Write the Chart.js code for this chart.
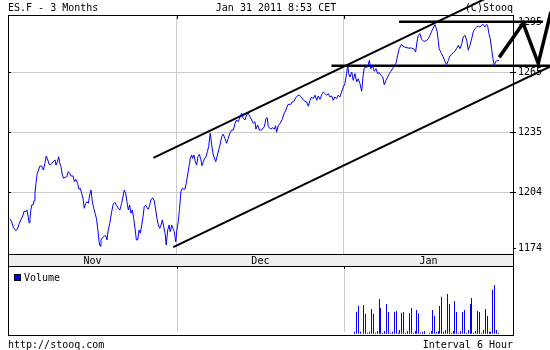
<!DOCTYPE html>
<html lang="en">
<head>
<meta charset="UTF-8">
<title>ES.F - 3 Months</title>
<script src="https://cdn.jsdelivr.net/npm/chart.js"></script>
<style>
  body { margin: 0; background: #fff; }
  #wrap { position: relative; width: 550px; height: 350px; }
  canvas { position: absolute; left: 0; }
  #priceChart { top: 0; }
  #volumeChart { top: 266px; }
</style>
</head>
<body>
<div id="wrap">
<canvas id="priceChart" width="550" height="266"></canvas>
<canvas id="volumeChart" width="550" height="84"></canvas>
</div>
<script>
// x unit = one 6-hour bar
const barCount = 264;
const monthLabels = ['Nov', 'Dec', 'Jan'];
const monthStarts = [0, 88.3, 175.6];

const yTickValues = [1176.3, 1204.6, 1234.9, 1265.2, 1290.1];
const yTickLabels = ['1174', '1204', '1235', '1265', '1295'];

const priceBars = [
  1.0,1.9,2.8,4.0,4.9,5.9,6.8,7.7,8.5,9.4,9.9,10.6,11.0,11.5,11.9,12.4,13.1,13.6,14.1,14.6,
  15.3,15.8,16.6,17.6,18.5,19.3,20.0,20.8,21.4,22.1,22.8,23.7,24.6,25.1,25.8,26.5,27.0,27.7,28.4,29.1,
  29.8,30.7,31.5,32.3,32.9,34.0,34.7,35.5,36.4,37.1,37.8,38.5,39.2,39.9,40.6,41.3,42.0,42.7,43.4,44.1,
  44.8,45.5,46.2,46.9,47.6,48.1,48.6,49.5,50.3,51.2,51.7,52.4,53.2,
  54.2,55.0,55.9,56.8,57.7,58.5,59.4,60.3,60.8,61.5,62.2,62.9,63.6,64.3,65.0,65.7,66.4,67.1,67.8,68.5,
  69.2,69.9,70.6,71.2,72.0,72.7,73.3,74.1,74.7,75.6,76.5,77.2,77.9,78.6,79.3,80.0,80.7,81.4,82.1,82.7,
  83.5,84.2,84.8,85.6,86.2,86.9,87.7,88.3,89.0,89.7,90.4,91.1,91.8,92.5,93.2,93.9,94.6,95.3,96.0,96.5,
  97.2,97.9,98.6,99.3,100.0,100.7,101.4,102.1,102.8,103.5,104.2,104.9,105.4,
  105.7,106.5,107.3,108.6,109.5,110.8,111.7,112.5,113.4,114.3,115.1,116.0,116.9,117.8,118.7,119.5,120.4,121.3,122.2,123.0,
  123.9,124.8,125.6,126.5,127.4,128.2,129.1,129.6,130.5,131.4,132.6,134.0,134.9,135.5,136.1,137.3,138.4,139.2,139.9,140.4,
  141.3,142.2,143.4,144.4,145.3,146.2,146.9,147.9,148.6,149.3,150.4,151.4,152.3,153.1,154.0,154.9,
  156.1,157.0,157.9,158.7,159.6,160.5,161.4,162.2,163.1,164.0,164.8,165.7,166.6,167.4,168.3,169.2,170.0,170.9,171.8,172.6,
  173.5,174.4,175.3,176.1,177.0,177.6,178.1,178.8,179.7,180.5,181.4,182.3,183.1,184.0,184.9,185.6,186.2,187.1,188.0,188.9,
  189.7,190.6,191.5,192.4,193.2,194.1,195.0,195.9,196.7,197.6,198.5,199.3,200.2,201.1,201.9,202.8,203.7,204.5,205.8,206.6,
  207.5,209.2,211.0,212.4,213.1,213.8,214.5,215.4,216.2,217.1,218.0,218.9,219.7,220.6,221.5,222.3,223.2,223.7,224.4,224.9,
  225.4,226.2,226.7,227.5,228.4,229.3,230.2,231.0,231.9,232.8,233.7,234.5,235.4,236.3,237.2,238.0,238.9,239.8,240.6,241.5,
  242.4,243.2,244.1,245.0,245.8,246.7,247.6,248.4,249.3,250.2,250.7,251.4,252.1,252.8,253.5,254.2,254.9,255.6,256.6
];
const priceValues = [
  1191.0,1189.6,1186.8,1185.1,1185.8,1188.8,1190.8,1192.5,1195.0,1194.7,1195.5,1191.8,1189.1,1191.3,1195.2,1198.0,1198.0,1200.2,1204.0,1209.0,
  1214.1,1215.2,1217.7,1217.7,1215.7,1219.1,1222.8,1220.8,1218.8,1218.2,1219.1,1219.9,1220.8,1218.2,1219.9,1222.4,1219.4,1217.4,1213.2,1211.5,
  1212.0,1212.3,1214.9,1214.1,1212.7,1212.7,1209.8,1211.0,1209.0,1206.0,1206.5,1204.0,1201.4,1196.4,1198.9,1199.7,1198.9,1203.1,1205.6,1199.7,
  1196.4,1193.9,1191.3,1186.3,1179.5,1177.3,1180.4,1181.7,1182.4,1182.4,1180.4,1185.4,1188.8,
  1194.7,1198.4,1199.4,1197.7,1196.4,1195.5,1198.9,1203.1,1205.6,1204.0,1199.7,1195.5,1198.0,1193.9,1195.5,1191.3,1186.3,1180.4,1180.4,1185.4,
  1183.8,1187.9,1192.1,1197.2,1198.0,1196.7,1195.9,1198.0,1200.6,1201.7,1200.1,1195.5,1191.3,1187.9,1186.3,1187.9,1190.5,1187.1,1183.8,1177.8,
  1185.4,1187.9,1184.6,1187.9,1186.3,1184.6,1179.5,1185.4,1189.6,1196.4,1204.8,1206.5,1206.1,1206.1,1209.0,1213.2,1217.4,1221.6,1223.3,1221.6,
  1223.3,1219.9,1218.2,1222.4,1223.6,1221.6,1217.9,1219.9,1221.6,1222.4,1225.0,1227.5,1231.7,
  1234.3,1228.3,1223.3,1219.9,1223.3,1228.3,1232.5,1233.8,1231.7,1229.2,1231.7,1234.3,1235.9,1235.9,1239.3,1241.0,1240.1,1242.6,1244.4,1241.8,
  1241.0,1243.5,1244.4,1242.6,1241.0,1239.3,1240.1,1236.4,1238.5,1235.9,1235.9,1237.6,1241.8,1242.1,1237.6,1236.4,1237.1,1236.4,1238.1,1234.8,
  1238.1,1239.3,1241.3,1244.4,1246.0,1248.6,1248.9,1248.9,1250.2,1250.2,1252.2,1253.3,1253.6,1252.7,1251.6,1250.6,
  1250.1,1247.9,1250.9,1252.6,1251.7,1253.5,1250.9,1253.1,1251.4,1253.8,1255.1,1254.3,1253.5,1254.3,1252.6,1253.1,1250.9,1252.6,1251.7,1253.5,
  1252.6,1255.1,1257.6,1259.3,1264.4,1268.6,1264.4,1262.7,1265.2,1261.0,1264.4,1260.2,1261.8,1259.3,1255.5,1262.7,1267.2,1267.7,1267.7,1271.1,
  1266.9,1268.2,1265.6,1266.9,1264.4,1264.9,1263.5,1262.7,1258.8,1261.0,1262.7,1264.4,1265.6,1266.9,1268.6,1269.4,1273.7,1277.0,1279.2,1278.2,
  1277.8,1277.3,1277.3,1276.7,1275.3,1280.4,1283.8,1284.6,1281.7,1280.9,1280.7,1281.2,1282.0,1283.8,1285.8,1287.4,1289.1,1287.9,1285.4,1281.2,
  1277.0,1275.3,1274.5,1272.8,1270.6,1268.9,1271.1,1273.3,1274.0,1275.0,1275.7,1277.0,1278.7,1277.0,1279.5,1282.9,1283.8,1281.2,1276.2,1278.7,
  1282.0,1285.4,1287.1,1287.9,1288.4,1287.9,1288.8,1289.3,1287.9,1289.3,1288.8,1284.6,1282.0,1277.0,1271.9,1268.6,1270.3,1271.1,1271.1
];

// volume only shown for January, relative units
const volumeBars = [
  181.0,182.1,183.1,184.2,185.7,186.8,187.8,188.9,189.9,190.9,192.0,193.0,194.1,194.6,195.6,196.7,197.7,198.8,199.8,200.9,
  201.9,203.0,204.0,204.5,205.6,206.6,207.7,208.7,209.8,210.8,211.9,212.9,213.4,214.5,215.5,216.6,217.6,220.2,221.3,221.8,
  222.8,223.9,224.9,225.6,226.7,227.7,228.6,229.6,230.7,231.7,232.8,233.3,234.3,235.4,236.4,237.5,238.5,239.6,240.6,241.6,
  242.2,243.2,244.3,245.3,246.4,247.4,248.4,249.5,250.5,251.6,252.1,253.1,254.2,255.2,256.3
];
const volumeValues = [
  2.0,22.0,27.7,2.0,28.7,19.7,1.0,2.0,24.7,19.7,1.0,2.7,34.7,25.7,1.0,2.7,29.7,21.7,1.0,2.0,
  21.7,22.7,1.0,3.7,21.0,21.7,1.0,2.7,20.7,25.7,1.0,2.7,23.7,20.4,1.0,2.0,2.7,1.0,2.7,23.7,
  17.7,2.0,2.7,27.7,37.0,2.0,3.7,39.7,29.7,1.0,2.7,32.7,21.7,1.0,2.7,21.7,23.7,1.0,3.7,29.7,
  35.7,1.0,2.7,22.7,21.7,1.0,3.7,24.7,17.7,2.0,2.0,43.7,48.7,3.7,1.0
];

// hand drawn lines: [bar, price]
const upperChannel = [[76.0, 1221.8], [249.3, 1302.1]];
const lowerChannel = [[86.4, 1176.8], [283.3, 1267.9]];
const resistanceLine = [[204.4, 1290.6], [279.6, 1290.6]];
const supportLine = [[169.1, 1268.4], [283.3, 1268.4]];
const projectionPath = [[256.8, 1272.6], [269.3, 1289.8], [277.2, 1269.6], [283.8, 1295.5]];

const titleText = 'ES.F - 3 Months';
const dateText = 'Jan 31 2011 8:53 CET';
const sourceText = '(C)Stooq';
const footerLeft = 'http://stooq.com';
const footerRight = 'Interval 6 Hour';

const monoFont = '10px "DejaVu Sans Mono"';

function toPoints(pairs) {
    return pairs.map(p => ({ x: p[0], y: p[1] }));
}

function drawnLine(pairs, width) {
    return {
        data: toPoints(pairs),
        borderColor: '#000000',
        borderWidth: width,
        pointRadius: 0,
        tension: 0,
        clip: false
    };
}

// set the range after data limits so points past the right edge are still drawn
function fixBarRange(s) {
    s.min = 0;
    s.max = barCount;
}

const priceFrame = {
    id: 'priceFrame',
    beforeDatasetsDraw(chart) {
        const ctx = chart.ctx;
        const a = chart.chartArea;
        const x = chart.scales.x;
        const y = chart.scales.y;
        ctx.save();
        ctx.fillStyle = '#eeeeee';
        ctx.fillRect(a.left, a.bottom, a.right - a.left, chart.height - a.bottom);
        ctx.strokeStyle = '#000000';
        ctx.lineWidth = 1;
        ctx.strokeRect(a.left + 0.5, a.top + 0.5, a.right - a.left, a.bottom - a.top);
        ctx.beginPath();
        ctx.moveTo(a.left + 0.5, a.bottom);
        ctx.lineTo(a.left + 0.5, chart.height);
        ctx.moveTo(a.right + 0.5, a.bottom);
        ctx.lineTo(a.right + 0.5, chart.height);
        monthStarts.slice(1).forEach(m => {
            const px = Math.round(x.getPixelForValue(m)) + 0.5;
            ctx.moveTo(px, a.top);
            ctx.lineTo(px, a.top + 4);
        });
        yTickValues.slice(1, 4).forEach(v => {
            const py = Math.round(y.getPixelForValue(v)) + 0.5;
            ctx.moveTo(a.left, py);
            ctx.lineTo(a.left + 3, py);
            ctx.moveTo(a.right - 3, py);
            ctx.lineTo(a.right, py);
        });
        ctx.stroke();

        ctx.fillStyle = '#000000';
        ctx.font = monoFont;
        ctx.textBaseline = 'alphabetic';
        ctx.textAlign = 'center';
        monthLabels.forEach((m, i) => {
            const end = i + 1 < monthStarts.length ? monthStarts[i + 1] : barCount;
            ctx.fillText(m, x.getPixelForValue((monthStarts[i] + end) / 2), a.bottom + 10);
        });
        ctx.textAlign = 'left';
        ctx.fillText(titleText, a.left, 11);
        ctx.textAlign = 'center';
        ctx.fillText(dateText, 276, 11);
        ctx.textAlign = 'right';
        ctx.fillText(sourceText, a.right, 11);
        ctx.restore();
    }
};

const volumeFrame = {
    id: 'volumeFrame',
    afterDatasetUpdate(chart) {
        // snap the 1px bars to whole pixels so they stay sharp
        chart.getDatasetMeta(0).data.forEach(el => { el.x = Math.floor(el.x) + 0.5; });
    },
    beforeDatasetsDraw(chart) {
        const ctx = chart.ctx;
        const a = chart.chartArea;
        const x = chart.scales.x;
        ctx.save();
        ctx.strokeStyle = '#cccccc';
        ctx.lineWidth = 1;
        ctx.beginPath();
        monthStarts.slice(1).forEach(m => {
            const px = Math.round(x.getPixelForValue(m)) + 0.5;
            ctx.moveTo(px, a.top);
            ctx.lineTo(px, a.bottom - 3);
        });
        ctx.stroke();
        ctx.strokeStyle = '#000000';
        ctx.beginPath();
        monthStarts.slice(1).forEach(m => {
            const px = Math.round(x.getPixelForValue(m)) + 0.5;
            ctx.moveTo(px, a.top);
            ctx.lineTo(px, a.top + 3);
        });
        ctx.stroke();
        ctx.strokeRect(a.left + 0.5, a.top + 0.5, a.right - a.left, a.bottom - a.top);

        // legend
        ctx.fillStyle = '#0000ff';
        ctx.fillRect(a.left + 6, a.top + 8, 6, 6);
        ctx.strokeRect(a.left + 6.5, a.top + 8.5, 6, 6);
        ctx.fillStyle = '#000000';
        ctx.font = monoFont;
        ctx.textAlign = 'left';
        ctx.fillText('Volume', a.left + 16, a.top + 15);

        ctx.fillText(footerLeft, a.left, chart.height - 2);
        ctx.textAlign = 'right';
        ctx.fillText(footerRight, a.right, chart.height - 2);
        ctx.restore();
    }
};

new Chart(document.getElementById('priceChart'), {
    type: 'line',
    data: {
        datasets: [
            {
                data: priceBars.map((b, i) => ({ x: b, y: priceValues[i] })),
                borderColor: '#0000ff',
                borderWidth: 1,
                pointRadius: 0,
                tension: 0
            },
            drawnLine(upperChannel, 2),
            drawnLine(lowerChannel, 2),
            drawnLine(resistanceLine, 2.5),
            drawnLine(supportLine, 2.5),
            drawnLine(projectionPath, 3.5)
        ]
    },
    options: {
        responsive: false,
        animation: false,
        events: [],
        layout: { padding: { left: 8, top: 15, right: 0, bottom: 0 } },
        plugins: { legend: { display: false }, tooltip: { enabled: false } },
        scales: {
            x: {
                type: 'linear',
                bounds: 'data',
                offset: false,
                afterDataLimits: fixBarRange,
                afterBuildTicks: s => { s.ticks = monthStarts.slice(1).map(v => ({ value: v })); },
                afterFit: s => { s.height = 12; },
                ticks: { display: false },
                grid: { color: '#cccccc', drawTicks: false },
                border: { display: false }
            },
            y: {
                position: 'right',
                min: 1173.3,
                max: 1294.0,
                afterBuildTicks: s => { s.ticks = yTickValues.map(v => ({ value: v })); },
                afterFit: s => { s.width = 37; },
                ticks: {
                    font: { family: 'DejaVu Sans Mono', size: 10 },
                    color: '#000000',
                    padding: 2,
                    callback: (v, i) => yTickLabels[i]
                },
                grid: {
                    color: c => (c.index === 0 || c.index === 4) ? 'rgba(0,0,0,0)' : '#cccccc',
                    tickLength: 3,
                    tickColor: '#000000'
                },
                border: { display: false }
            }
        }
    },
    plugins: [priceFrame]
});

new Chart(document.getElementById('volumeChart'), {
    type: 'bar',
    data: {
        datasets: [{
            data: volumeBars.map((b, i) => ({ x: b, y: volumeValues[i] })),
            backgroundColor: '#0000ff',
            borderWidth: 0,
            barThickness: 1,
            inflateAmount: 0
        }]
    },
    options: {
        responsive: false,
        animation: false,
        events: [],
        layout: { padding: { left: 8, top: 0, right: 37, bottom: 15 } },
        plugins: { legend: { display: false }, tooltip: { enabled: false } },
        scales: {
            x: { type: 'linear', min: 0, max: barCount, offset: false, display: false },
            y: { min: -1.3, max: 67.7, display: false }
        }
    },
    plugins: [volumeFrame]
});
</script>
</body>
</html>
